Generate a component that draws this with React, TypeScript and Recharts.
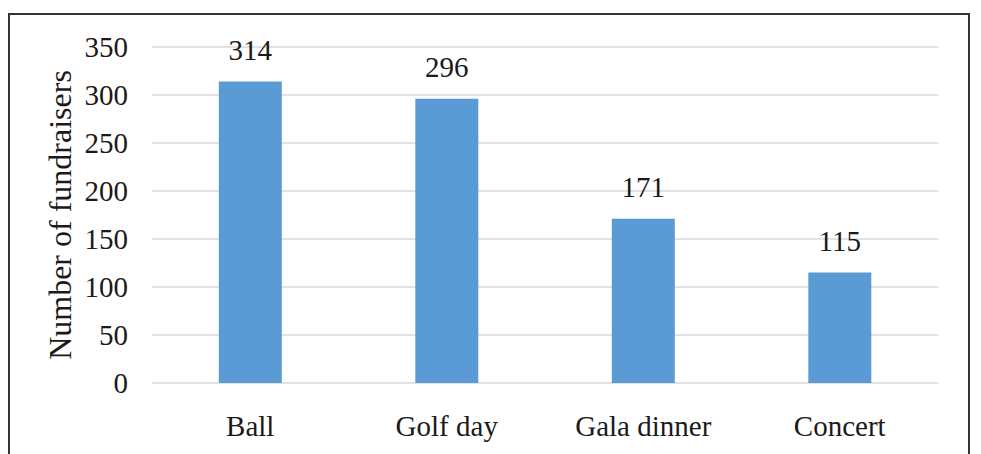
import { BarChart, Bar, XAxis, YAxis, CartesianGrid, LabelList } from "recharts";

const categories = ["Ball", "Golf day", "Gala dinner", "Concert"];
const fundraisers = [314, 296, 171, 115];
const yTicks = [0, 50, 100, 150, 200, 250, 300, 350];

const data = categories.map((name, i) => ({ name, value: fundraisers[i] }));

const font = "'Liberation Serif', 'Times New Roman', serif";
const textColor = "#1a1a1a";

export default function App() {
  return (
    <div
      style={{
        marginTop: 5,
        marginLeft: 0,
        width: 962,
        height: 460,
        border: "2px solid #333",
        background: "#fff",
        boxSizing: "border-box",
      }}
    >
      <BarChart
        width={958}
        height={456}
        data={data}
        margin={{ top: 32, right: 30, left: 0, bottom: 18 }}
        barCategoryGap="34%"
      >
        <CartesianGrid vertical={false} stroke="#d9d9d9" strokeWidth={1.5} />
        <XAxis
          dataKey="name"
          axisLine={false}
          tickLine={false}
          height={70}
          tickMargin={26}
          tick={{ fontSize: 29, fill: textColor, fontFamily: font }}
        />
        <YAxis
          domain={[0, 350]}
          ticks={yTicks}
          interval={0}
          axisLine={false}
          tickLine={false}
          width={142}
          tickMargin={18}
          tick={{ fontSize: 29, fill: textColor, fontFamily: font }}
          label={{
            value: "Number of fundraisers",
            angle: -90,
            position: "insideLeft",
            offset: 50,
            style: { textAnchor: "middle", fontSize: 32, fill: textColor, fontFamily: font },
          }}
        />
        <Bar dataKey="value" fill="#5b9bd5" isAnimationActive={false}>
          <LabelList
            dataKey="value"
            position="top"
            offset={22}
            style={{ fontSize: 29, fill: textColor, fontFamily: font }}
          />
        </Bar>
      </BarChart>
    </div>
  );
}
